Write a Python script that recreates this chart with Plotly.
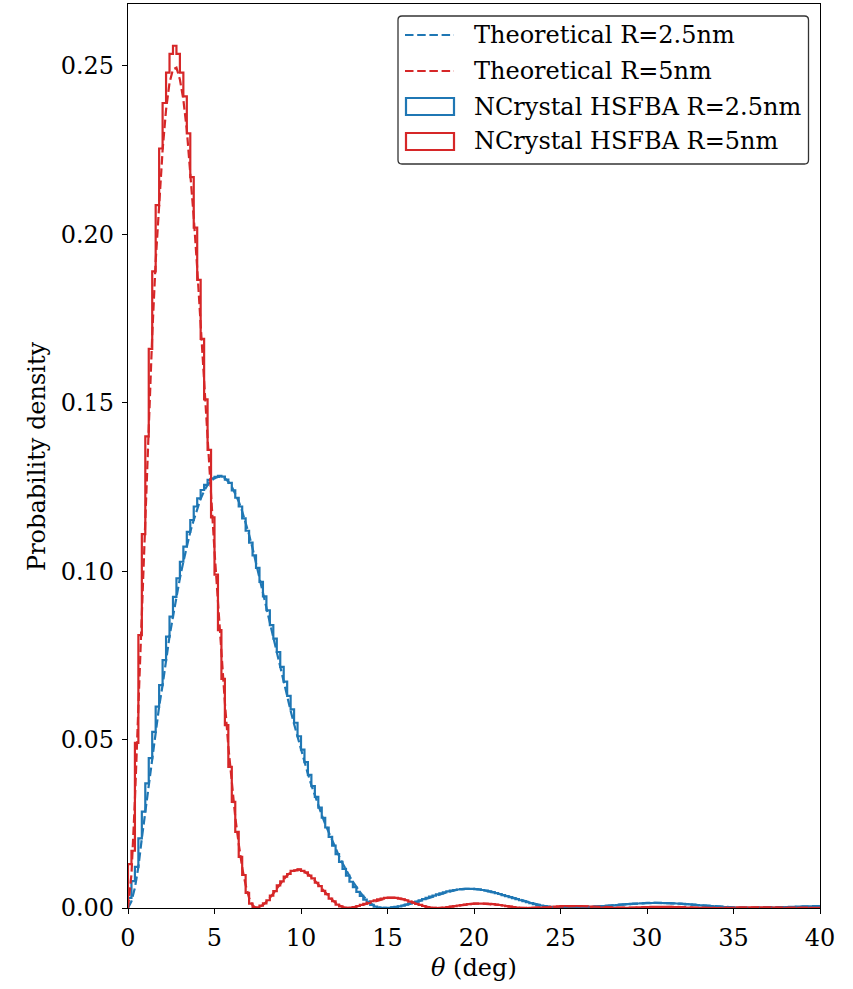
import numpy as np
import plotly.graph_objects as go

# ---------------------------------------------------------------------------
# Data: scattering-angle distributions for hard spheres (R = 2.5 nm and 5 nm)
# Histograms use 0.2 deg bins from 0 to 40 deg (probability density per deg).
# ---------------------------------------------------------------------------
BIN_WIDTH = 0.2
bin_edges = np.round(np.arange(0.0, 40.0 + BIN_WIDTH / 2, BIN_WIDTH), 1)

hist_r25 = [
    0.003, 0.008, 0.0122, 0.0207, 0.0286, 0.037, 0.0445, 0.0523, 0.0598, 0.0662,
    0.0736, 0.0806, 0.0865, 0.0924, 0.0979, 0.1028, 0.1073, 0.1117, 0.1152, 0.1192,
    0.1216, 0.1241, 0.1256, 0.1271, 0.1276, 0.1280, 0.1283, 0.1281, 0.1272, 0.1262,
    0.1240, 0.1218, 0.1192, 0.1157, 0.1120, 0.1085, 0.1047, 0.1010, 0.0968, 0.0925,
    0.0884, 0.0840, 0.0800, 0.0760, 0.0716, 0.0672, 0.0630, 0.0590, 0.0550, 0.0510,
    0.0470, 0.0433, 0.0395, 0.0362, 0.0330, 0.0298, 0.0268, 0.0239, 0.0211, 0.0185,
    0.0160, 0.0137, 0.0116, 0.0096, 0.0078, 0.0062, 0.0048, 0.0036, 0.0025, 0.0016,
    0.0009, 0.0004, 0.0001, 0.0,
    0.00001, 0.00007, 0.00017, 0.00032, 0.0005, 0.00073, 0.00098, 0.00127, 0.00158, 0.00192,
    0.00227, 0.00262, 0.00299, 0.00335, 0.0037, 0.00403, 0.00435, 0.00465, 0.00491, 0.00515,
    0.00534, 0.00549, 0.00561, 0.00568, 0.0057,
    0.00567, 0.0056, 0.0055, 0.00535, 0.00516, 0.00494, 0.0047, 0.00443, 0.00415, 0.00385,
    0.00354, 0.00323, 0.00292, 0.00261, 0.0023, 0.002, 0.00171, 0.00144, 0.00118, 0.00095,
    0.00074, 0.00055, 0.00039, 0.00026, 0.00015, 0.00007, 0.00002, 0.0,
    0.000005, 0.00002, 0.000045, 0.00008, 0.000125, 0.00018, 0.00024, 0.00031, 0.00038, 0.00046,
    0.00054, 0.00063, 0.00071, 0.0008, 0.00089, 0.00098, 0.00106, 0.00114, 0.00121, 0.00128,
    0.00134, 0.00139, 0.00143, 0.00147, 0.00149, 0.0015, 0.0015, 0.00149, 0.00147, 0.00143,
    0.00139, 0.00134, 0.00128, 0.00121, 0.00114, 0.00106, 0.00098, 0.00089, 0.0008, 0.00071,
    0.00063, 0.00054, 0.00046, 0.00038, 0.00031, 0.00024, 0.00018, 0.000125, 0.00008, 0.000045,
    0.00002, 0.000005, 0.0,
    0.0, 0.00001, 0.00002, 0.00004, 0.00006, 0.00009, 0.00012, 0.00015, 0.00019, 0.00023,
    0.00027, 0.00031, 0.00035, 0.00039, 0.00042, 0.00046, 0.00049, 0.00052, 0.00054, 0.00056,
]

hist_r5 = [
    0.013, 0.017, 0.049, 0.081, 0.111, 0.140, 0.166, 0.189, 0.2087, 0.2255,
    0.239, 0.248, 0.2536, 0.256, 0.2536, 0.248, 0.241, 0.230, 0.217, 0.202,
    0.1865, 0.169, 0.151, 0.136, 0.116, 0.099, 0.0825, 0.068, 0.0543, 0.0419,
    0.0315, 0.0226, 0.0152, 0.0098, 0.0045, 0.0013, 0.0002,
    0.0002, 0.0007, 0.0014, 0.0023, 0.0037, 0.0050, 0.0067, 0.0079, 0.0093, 0.0101,
    0.0110, 0.0112, 0.0115, 0.0110, 0.0106, 0.0096, 0.0088, 0.0075, 0.0065, 0.0051,
    0.0041, 0.0028, 0.0020, 0.0010, 0.0005, 0.0001,
    0.00003, 0.00014, 0.0003, 0.0006, 0.0009, 0.0012, 0.0016, 0.0020, 0.0023, 0.0026,
    0.0028, 0.0030, 0.0031, 0.0031, 0.0030, 0.0028, 0.0026, 0.0023, 0.0019, 0.0016,
    0.0012, 0.0009, 0.0006, 0.0003, 0.00013, 0.00003,
    0.0,
    0.00004, 0.00013, 0.00026, 0.00042, 0.00058, 0.00074, 0.00089, 0.00102, 0.00113, 0.00121,
    0.00127, 0.0013, 0.0013, 0.00127, 0.00121, 0.00113, 0.00102, 0.00089, 0.00074, 0.00058,
    0.00042, 0.00026, 0.00013, 0.00004, 0.00001,
    0.0,
    0.00001, 0.00004, 0.00009, 0.00015, 0.00022, 0.00029, 0.00036, 0.00043, 0.00049, 0.00054,
    0.00057, 0.0006, 0.0006, 0.00058, 0.00055, 0.00051, 0.00046, 0.0004, 0.00033, 0.00026,
    0.00019, 0.00012, 0.00007, 0.00003, 0.00001, 0.0,
    0.0, 0.00002, 0.00005, 0.00009, 0.00013, 0.00017, 0.00021, 0.00025, 0.00029, 0.00032,
    0.00034, 0.00035, 0.00035, 0.00034, 0.00032, 0.0003, 0.00027, 0.00023, 0.00019, 0.00015,
    0.00011, 0.00008, 0.00005, 0.00003, 0.00001, 0.0, 0.0,
    0.00001, 0.00002, 0.00004, 0.00006, 0.00009, 0.00011, 0.00014, 0.00016, 0.00018, 0.0002,
    0.00021, 0.00022, 0.00022, 0.00021, 0.0002, 0.00019, 0.00017, 0.00015, 0.00012, 0.0001,
    0.00008, 0.00006, 0.00004, 0.00002, 0.00001, 0.0, 0.0,
    0.00001, 0.00002, 0.00004, 0.00006,
]

# Theoretical curves: fine grid over the main lobe, coarser over the tail
theory_theta_r25 = np.round(np.concatenate([np.arange(0.0, 15.01, 0.2),
                                            np.arange(15.5, 40.01, 0.5)]), 2)
theory_r25 = [
    0.0, 0.002, 0.006, 0.0122, 0.0207, 0.0286, 0.037, 0.0445, 0.0523, 0.0598,
    0.0662, 0.0736, 0.0806, 0.0865, 0.0924, 0.0979, 0.1028, 0.1073, 0.1117, 0.1152,
    0.1187, 0.1215, 0.1238, 0.1256, 0.1268, 0.1276, 0.128, 0.128, 0.1276, 0.1266,
    0.1251, 0.1231, 0.1207, 0.1178, 0.1145, 0.1108, 0.1068, 0.1026, 0.0982, 0.0937,
    0.0892, 0.0847, 0.0802, 0.0758, 0.0714, 0.0670, 0.0627, 0.0586, 0.0546, 0.0507,
    0.0469, 0.0433, 0.0398, 0.0365, 0.0334, 0.0304, 0.0276, 0.0249, 0.0224, 0.0199,
    0.0176, 0.0154, 0.0133, 0.0113, 0.0095, 0.0078, 0.0062, 0.0048, 0.0035, 0.0024,
    0.0015, 0.0008, 0.0003, 0.0001, 0.0, 0.00003,
    0.0003, 0.0008, 0.0015, 0.0023, 0.0032, 0.0041, 0.0048, 0.0054, 0.0057, 0.0057,
    0.0054, 0.0048, 0.0041, 0.0034, 0.0026, 0.0018, 0.0012, 0.0006, 0.0002, 0.00003,
    0.00001, 0.00007, 0.0002, 0.0004, 0.0006, 0.0008, 0.0010, 0.0012, 0.0014, 0.0015,
    0.0015, 0.0015, 0.0014, 0.0012, 0.0010, 0.0008, 0.0006, 0.0004, 0.0002, 0.0001,
    0.00002, 0.0, 0.00002, 0.00006, 0.00013, 0.00021, 0.0003, 0.00039, 0.00047, 0.00054,
]

theory_theta_r5 = np.round(np.concatenate([np.arange(0.0, 13.01, 0.2),
                                           np.arange(13.5, 40.01, 0.5)]), 2)
theory_r5 = [
    0.0, 0.010, 0.032, 0.060, 0.090, 0.119, 0.146, 0.170, 0.192, 0.210,
    0.225, 0.237, 0.245, 0.249, 0.2495, 0.246, 0.240, 0.231, 0.219, 0.205,
    0.190, 0.174, 0.157, 0.140, 0.123, 0.106, 0.090, 0.075, 0.061, 0.048,
    0.037, 0.027, 0.019, 0.012, 0.0068, 0.0030, 0.0008, 0.0, 0.0003,
    0.0009, 0.0018, 0.0030, 0.0043, 0.0058, 0.0072, 0.0086, 0.0097, 0.0106, 0.0111,
    0.0114, 0.0113, 0.0108, 0.0101, 0.0092, 0.0082, 0.0070, 0.0058, 0.0046, 0.0035,
    0.0024, 0.0015, 0.0008, 0.0003, 0.0, 0.0001, 0.0002,
    0.0008, 0.0016, 0.0024, 0.0030, 0.0030, 0.0025, 0.0016, 0.0007, 0.0001, 0.0,
    0.0003, 0.0007, 0.0010, 0.0013, 0.0013, 0.0012, 0.0009, 0.0005, 0.0001, 0.0,
    0.0001, 0.0002, 0.0004, 0.0005, 0.0006, 0.0006, 0.0005, 0.0004, 0.0002, 0.00005,
    0.0, 0.00005, 0.00015, 0.00025, 0.00032, 0.00035, 0.00034, 0.00028, 0.00018, 0.00008,
    0.00002, 0.0, 0.00004, 0.0001, 0.00016, 0.0002, 0.00022, 0.0002, 0.00016, 0.0001,
    0.00004, 0.0, 0.00002, 0.00006,
]

assert len(hist_r25) == len(bin_edges) - 1
assert len(hist_r5) == len(bin_edges) - 1
assert len(theory_r25) == len(theory_theta_r25)
assert len(theory_r5) == len(theory_theta_r5)

x_ticks = [0, 5, 10, 15, 20, 25, 30, 35, 40]
y_ticks = [0.0, 0.05, 0.10, 0.15, 0.20, 0.25]

legend_labels = [
    "Theoretical R=2.5nm",
    "Theoretical R=5nm",
    "NCrystal HSFBA R=2.5nm",
    "NCrystal HSFBA R=5nm",
]

BLUE = "#1f77b4"
RED = "#d62728"
FONT = "DejaVu Serif"
FONT_SIZE = 24
LINE_W = 2.2
DASH = "8.5px,3.7px"

# Figure geometry (pixels)
W, H = 853, 989
ML, MR, MT, MB = 128, 33, 4, 81
PLOT_W = W - ML - MR
PLOT_H = H - MT - MB


def px_x(px):
    """Horizontal pixel -> paper coordinate."""
    return (px - ML) / PLOT_W


def px_y(py):
    """Vertical pixel (from top) -> paper coordinate."""
    return (H - MB - py) / PLOT_H


def step_outline(edges, counts):
    """Outline of an unfilled step histogram (as matplotlib's histtype='step')."""
    xs = [edges[0]] + list(edges)
    ys = [0.0] + list(counts) + [0.0]
    return xs, ys


fig = go.Figure()

for counts, color in ((hist_r25, BLUE), (hist_r5, RED)):
    xs, ys = step_outline(bin_edges, counts)
    fig.add_trace(go.Scatter(
        x=xs, y=ys, mode="lines", line=dict(color=color, width=LINE_W, shape="hv"),
        showlegend=False, hoverinfo="skip",
    ))

for theta, dens, color in ((theory_theta_r25, theory_r25, BLUE),
                           (theory_theta_r5, theory_r5, RED)):
    fig.add_trace(go.Scatter(
        x=theta, y=dens, mode="lines",
        line=dict(color=color, width=LINE_W, dash=DASH),
        showlegend=False, hoverinfo="skip",
    ))

axis_common = dict(
    showgrid=False, zeroline=False, showline=True, mirror=True,
    linecolor="black", linewidth=1.2, ticks="outside", ticklen=5,
    tickwidth=1.2, tickcolor="black",
    tickfont=dict(family=FONT, size=FONT_SIZE, color="black"),
)

fig.update_xaxes(range=[0, 40], tickvals=x_ticks,
                 ticktext=[str(t) for t in x_ticks], ticklabelstandoff=3,
                 **axis_common)
fig.update_yaxes(range=[0, 0.2684], tickvals=y_ticks,
                 ticktext=[f"{t:.2f}" for t in y_ticks], ticklabelstandoff=3,
                 **axis_common)

# ---- legend box (drawn with shapes so handles look like line/patch keys) ----
shapes = []
annotations = []

bx0, bx1, by0, by1 = px_x(398), px_x(808.5), px_y(16), px_y(164)
rx, ry = 4 / PLOT_W, 4 / PLOT_H
frame_path = (
    f"M {bx0 + rx},{by0} L {bx1 - rx},{by0} Q {bx1},{by0} {bx1},{by0 - ry} "
    f"L {bx1},{by1 + ry} Q {bx1},{by1} {bx1 - rx},{by1} "
    f"L {bx0 + rx},{by1} Q {bx0},{by1} {bx0},{by1 + ry} "
    f"L {bx0},{by0 - ry} Q {bx0},{by0} {bx0 + rx},{by0} Z"
)
shapes.append(dict(type="path", xref="paper", yref="paper", path=frame_path,
                   line=dict(color="rgba(0,0,0,0.8)", width=1.3),
                   fillcolor="rgba(255,255,255,0.8)", layer="above"))

row_y = [35, 71, 106.5, 141.5]
handle_x0, handle_x1 = 405, 454
text_x = 472

for i, (label, color) in enumerate(zip(legend_labels, [BLUE, RED, BLUE, RED])):
    yc = row_y[i]
    if i < 2:
        shapes.append(dict(type="line", xref="paper", yref="paper",
                           x0=px_x(handle_x0), x1=px_x(handle_x1),
                           y0=px_y(yc), y1=px_y(yc),
                           line=dict(color=color, width=LINE_W, dash=DASH),
                           layer="above"))
    else:
        shapes.append(dict(type="rect", xref="paper", yref="paper",
                           x0=px_x(handle_x0 + 1), x1=px_x(handle_x1),
                           y0=px_y(yc - 8.5), y1=px_y(yc + 8.5),
                           line=dict(color=color, width=LINE_W),
                           fillcolor="rgba(0,0,0,0)", layer="above"))
    annotations.append(dict(x=px_x(text_x), y=px_y(yc), xref="paper", yref="paper",
                            text=label, showarrow=False, xanchor="left",
                            yanchor="middle",
                            font=dict(family=FONT, size=FONT_SIZE, color="black")))

# ---- axis titles ----
annotations.append(dict(x=px_x(37), y=px_y(456), xref="paper", yref="paper",
                        text="Probability density", textangle=-90,
                        showarrow=False, xanchor="center", yanchor="middle",
                        font=dict(family=FONT, size=FONT_SIZE, color="black")))
annotations.append(dict(x=0.5, y=px_y(968), xref="paper", yref="paper",
                        text="<i>θ</i> (deg)", showarrow=False,
                        xanchor="center", yanchor="middle",
                        font=dict(family=FONT, size=FONT_SIZE, color="black")))

fig.update_layout(
    width=W, height=H,
    margin=dict(l=ML, r=MR, t=MT, b=MB, pad=0),
    paper_bgcolor="white", plot_bgcolor="white",
    showlegend=False,
    shapes=shapes,
    annotations=annotations,
)

fig.write_html("out.html")
